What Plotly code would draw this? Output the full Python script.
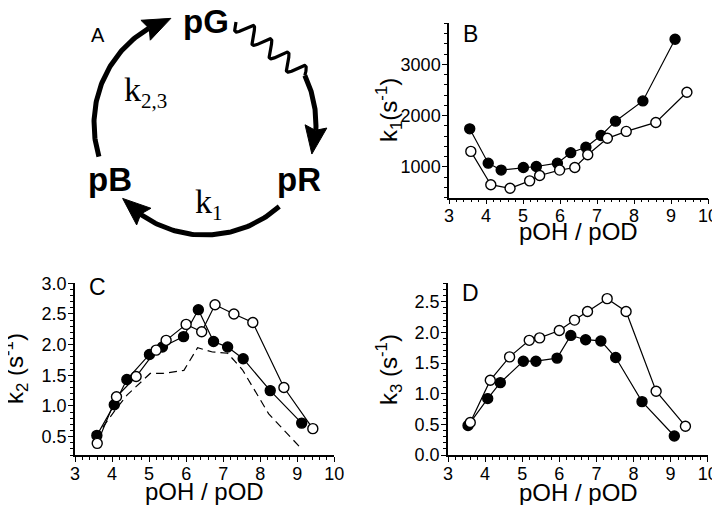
import numpy as np
import plotly.graph_objects as go

# ---------------- data ----------------
pOH_label = "pOH / pOD"

# Panel B : k1
b_x_filled = [3.56, 4.06, 4.41, 5.01, 5.36, 5.93, 6.29, 6.70, 7.11, 7.50, 8.24, 9.11]
b_y_filled = [1740, 1070, 935, 985, 1005, 1070, 1275, 1380, 1610, 1890, 2285, 3490]
b_x_open = [3.59, 4.13, 4.65, 5.18, 5.45, 5.99, 6.40, 6.75, 7.28, 7.79, 8.59, 9.43]
b_y_open = [1300, 650, 580, 725, 830, 935, 985, 1235, 1555, 1690, 1865, 2455]

# Panel C : k2
c_x_filled = [3.59, 4.06, 4.40, 5.01, 5.36, 5.93, 6.33, 6.74, 7.12, 7.54, 8.27, 9.12]
c_y_filled = [0.52, 1.02, 1.43, 1.84, 1.96, 2.13, 2.57, 2.05, 1.96, 1.77, 1.25, 0.72]
c_x_open = [3.60, 4.12, 4.65, 5.19, 5.46, 6.00, 6.42, 6.78, 7.29, 7.80, 8.64, 9.42]
c_y_open = [0.39, 1.15, 1.48, 1.91, 2.07, 2.33, 2.21, 2.65, 2.50, 2.36, 1.30, 0.63]

# Panel D : k3
d_x_filled = [3.54, 4.07, 4.41, 5.03, 5.37, 5.94, 6.31, 6.71, 7.12, 7.52, 8.23, 9.10]
d_y_filled = [0.48, 0.92, 1.18, 1.53, 1.53, 1.58, 1.95, 1.88, 1.86, 1.59, 0.87, 0.31]
d_x_open = [3.60, 4.14, 4.66, 5.19, 5.47, 6.00, 6.41, 6.76, 7.29, 7.80, 8.61, 9.40]
d_y_open = [0.53, 1.22, 1.60, 1.87, 1.91, 2.03, 2.20, 2.34, 2.55, 2.34, 1.04, 0.47]

# dashed line in C reproduces the k3 (filled) series
c_x_dash = d_x_filled
c_y_dash = d_y_filled

# page body has an 8px margin: the figure is placed 8px right/down of the window corner
OFF = 8
FW, FH = 712, 497
SANS = "Liberation Sans, Arial, Helvetica, sans-serif"
SERIF = "Liberation Serif, Times New Roman, serif"

def dx(a, b):   # screen px -> paper domain
    return [(a - OFF) / FW, (b - OFF) / FW]

def dy(top, bottom):
    return [1 - (bottom - OFF) / FH, 1 - (top - OFF) / FH]

fig = go.Figure()

def add_series(xs, ys, filled, xa, ya):
    fig.add_trace(go.Scatter(
        x=xs, y=ys, mode="lines+markers", xaxis=xa, yaxis=ya,
        line=dict(color="black", width=1.2),
        marker=dict(size=10, symbol="circle",
                    color="black" if filled else "white",
                    line=dict(color="black", width=1.4)),
        showlegend=False, cliponaxis=False))

# Panel B
add_series(b_x_filled, b_y_filled, True, "x", "y")
add_series(b_x_open, b_y_open, False, "x", "y")
# Panel C
fig.add_trace(go.Scatter(x=c_x_dash, y=c_y_dash, mode="lines", xaxis="x2", yaxis="y2",
                         line=dict(color="black", width=1.2, dash="8px,5px"), showlegend=False))
add_series(c_x_filled, c_y_filled, True, "x2", "y2")
add_series(c_x_open, c_y_open, False, "x2", "y2")
# Panel D
add_series(d_x_filled, d_y_filled, True, "x3", "y3")
add_series(d_x_open, d_y_open, False, "x3", "y3")

# ---------------- diagram (panel A) in screen-pixel coordinates ----------------
cx, cy, R = 205, 124, 111

def arc(a0, a1, n=80):
    t = np.radians(np.linspace(a0, a1, n))
    return cx + R * np.cos(t), cy + R * np.sin(t)

def head(at, L=28, w=22):
    t = np.radians(at)
    tip = np.array([cx + R * np.cos(t), cy + R * np.sin(t)])
    tb = t - L / R
    base = np.array([cx + R * np.cos(tb), cy + R * np.sin(tb)])
    d = (tip - base) / np.linalg.norm(tip - base)
    nrm = np.array([-d[1], d[0]])
    p1 = base + nrm * w / 2
    p2 = base - nrm * w / 2
    notch = base + d * 4
    pts = [tip, p1, notch, p2, tip]
    return [p[0] for p in pts], [p[1] for p in pts]

arcs = [(162.9, 252.1), (-25.9, 15.7), (48.0, 137.9)]
for a0, at in arcs:
    a1 = at - np.degrees(24 / R)
    xs, ys = arc(a0, a1)
    fig.add_trace(go.Scatter(x=xs, y=ys, mode="lines", xaxis="x4", yaxis="y4",
                             line=dict(color="black", width=5), showlegend=False,
                             hoverinfo="skip"))
    hx, hy = head(at)
    fig.add_trace(go.Scatter(x=hx, y=hy, mode="lines", fill="toself", fillcolor="black",
                             xaxis="x4", yaxis="y4", line=dict(color="black", width=1),
                             showlegend=False, hoverinfo="skip"))

# wavy line pG -> pR
t_end = np.radians(-25.9)
P0 = np.array([236.0, 22.0])
P1 = np.array([cx + R * np.cos(t_end), cy + R * np.sin(t_end)])
s = np.linspace(0, 1, 300)
dvec = P1 - P0
u = dvec / np.linalg.norm(dvec)
nv = np.array([-u[1], u[0]])
amp = 8.0 * np.sin(2 * np.pi * 4 * s)
wx = P0[0] + s * dvec[0] + amp * nv[0]
wy = P0[1] + s * dvec[1] + amp * nv[1]
fig.add_trace(go.Scatter(x=wx, y=wy, mode="lines", xaxis="x4", yaxis="y4",
                         line=dict(color="black", width=3.2), showlegend=False,
                         hoverinfo="skip"))

# ---------------- axes ----------------
def base_axis(**kw):
    d = dict(showline=True, linecolor="black", linewidth=1.5, ticks="outside",
             ticklen=5, tickwidth=1.2, tickcolor="black", showgrid=False,
             zeroline=False, mirror=False, automargin=False,
             tickfont=dict(family=SANS, size=18, color="black"))
    d.update(kw)
    return d

minor_x = dict(dtick=0.2, ticklen=3, tickwidth=1, tickcolor="black", ticks="outside", showgrid=False)
minor_y = lambda dt: dict(dtick=dt, ticklen=3, tickwidth=1, tickcolor="black", ticks="outside", showgrid=False)

fig.update_layout(
    width=FW, height=FH,
    margin=dict(l=0, r=0, t=0, b=0, pad=0, autoexpand=False),
    paper_bgcolor="white", plot_bgcolor="rgba(0,0,0,0)",
    xaxis=base_axis(domain=dx(449, 708), range=[3, 10], dtick=1, tick0=0, minor=minor_x,
                    anchor="y", ticklabelstandoff=-4),
    yaxis=base_axis(domain=dy(23.3, 197.5), range=[400, 3800], dtick=1000, tick0=0,
                    minor=minor_y(200), anchor="x", ticklabelstandoff=-2),
    xaxis2=base_axis(domain=dx(75, 334.3), range=[3, 10], dtick=1, tick0=0, minor=minor_x,
                     anchor="y2", ticklabelstandoff=-3),
    yaxis2=base_axis(domain=dy(283.3, 455), range=[0.2, 3.0], dtick=0.5, tick0=0, tickformat=".1f",
                     minor=minor_y(0.1), anchor="x2", ticklabelstandoff=-2),
    xaxis3=base_axis(domain=dx(448, 707.7), range=[3, 10], dtick=1, tick0=0, minor=minor_x,
                     anchor="y3", ticklabelstandoff=-3),
    yaxis3=base_axis(domain=dy(283.3, 455), range=[0, 2.8], dtick=0.5, tick0=0, tickformat=".1f",
                     minor=minor_y(0.1), anchor="x3", ticklabelstandoff=-2),
    xaxis4=dict(domain=[0, 1], range=[OFF, OFF + FW], visible=False, fixedrange=True, anchor="y4"),
    yaxis4=dict(domain=[0, 1], range=[OFF + FH, OFF], visible=False, fixedrange=True, anchor="x4"),
)

# ---------------- text (screen-pixel positions) ----------------
ann = []
def txt(x, y, text, size, family=SANS, angle=0, xanchor="center", yanchor="middle"):
    ann.append(dict(x=x, y=y, xref="x4", yref="y4", text=text, showarrow=False,
                    font=dict(family=family, size=size, color="black"),
                    textangle=angle, xanchor=xanchor, yanchor=yanchor))

# panel A
txt(98, 35, "A", 20)
txt(206, 21, "<b>pG</b>", 33)
txt(110, 179, "<b>pB</b>", 33)
txt(299, 179, "<b>pR</b>", 33)
txt(122, 92, 'k<sub><span style="font-size:21px">2,3</span></sub>', 34, family=SERIF, xanchor="left")
txt(193, 204, 'k<sub><span style="font-size:21px">1</span></sub>', 34, family=SERIF, xanchor="left")

# panel letters
txt(470, 33.5, "B", 23)
txt(97, 287, "C", 23)
txt(470, 293, "D", 23)

# axis titles
txt(578.5, 231, pOH_label, 24)
txt(204.5, 491, pOH_label, 24)
txt(578, 492, pOH_label, 24)
txt(389, 110, "k<sub>1</sub>(s<sup>-1</sup>)", 24, angle=-90)
txt(15, 369, "k<sub>2</sub> (s<sup>-1</sup>)", 24, angle=-90)
txt(389, 370, "k<sub>3</sub> (s<sup>-1</sup>)", 24, angle=-90)

fig.update_layout(annotations=ann)
fig.write_html("out.html")
